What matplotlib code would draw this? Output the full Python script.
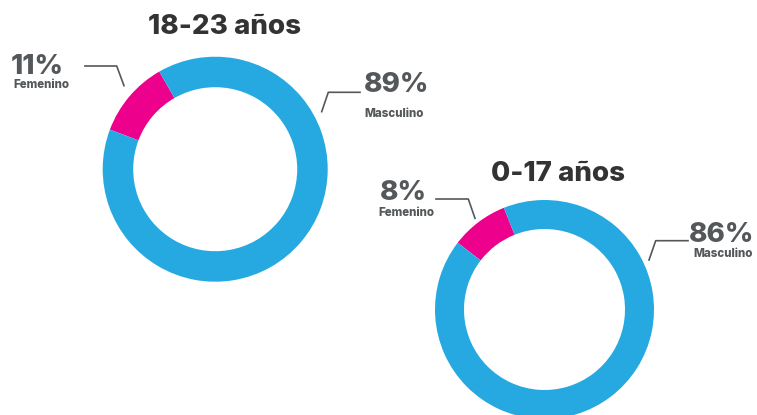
import matplotlib.pyplot as plt

# data
groups = ['18-23 años', '0-17 años']
categories = ['Femenino', 'Masculino']
fem_pct = [11, 8]
masc_pct = [89, 86]

BLUE = '#26a9e0'
PINK = '#ec008c'
GREY = '#54585a'
DARK = '#333333'
H = 415


def py(y):
    # pixel row (top-down) -> data y (bottom-up)
    return H - y


fig = plt.figure(figsize=(7.57, 4.15), dpi=100)
ax = fig.add_axes([0, 0, 1, 1])

# donut layout: center (px), radius, ring width, start angle
layout = [
    dict(center=(215.2, 169.2), r=112.5, w=30.5, start=119.8,
         title=(224, 34),
         fem_pct=(37.5, 74), fem_lbl=(41, 88.5),
         fem_line=[(85, 66), (116.7, 66), (124, 85.7)],
         masc_pct=(397, 91.7), masc_lbl=(394, 116.7),
         masc_line=[(321.7, 111.7), (328.3, 92.3), (360, 92.3)]),
    dict(center=(544.5, 309.5), r=109.5, w=29, start=111.8,
         title=(557.7, 180.7),
         fem_pct=(403, 200.5), fem_lbl=(406.5, 216),
         fem_line=[(436, 199), (468.3, 199), (475, 218.3)],
         masc_pct=(722, 241.7), masc_lbl=(723, 256.7),
         masc_line=[(649, 260), (655.7, 240.7), (688, 240.7)]),
]

for g, f, m, L in zip(groups, fem_pct, masc_pct, layout):
    cx, cy = L['center']
    ax.pie([f, m], colors=[PINK, BLUE], startangle=L['start'], counterclock=True,
           radius=L['r'], center=(cx, py(cy)),
           wedgeprops=dict(width=L['w'], linewidth=0))

    ax.text(L['title'][0], py(L['title'][1]), g, ha='center', va='baseline',
            fontsize=20, fontweight='heavy', color=DARK, family='Inter')

    for pct, name, pp, lp, line in [(f, categories[0], L['fem_pct'], L['fem_lbl'], L['fem_line']),
                                    (m, categories[1], L['masc_pct'], L['masc_lbl'], L['masc_line'])]:
        ax.text(pp[0], py(pp[1]), f'{pct}%', ha='center', va='baseline',
                fontsize=20, fontweight='heavy', color=GREY, family='Inter')
        ax.text(lp[0], py(lp[1]), name, ha='center', va='baseline',
                fontsize=8.3, fontweight='heavy', color=GREY, family='Inter')
        xs = [p[0] for p in line]
        ys = [py(p[1]) for p in line]
        ax.plot(xs, ys, color=GREY, lw=1.2)

ax.set_xlim(0, 757)
ax.set_ylim(0, H)
ax.set_aspect('equal')
ax.axis('off')

fig.savefig('out.png', dpi=100)
